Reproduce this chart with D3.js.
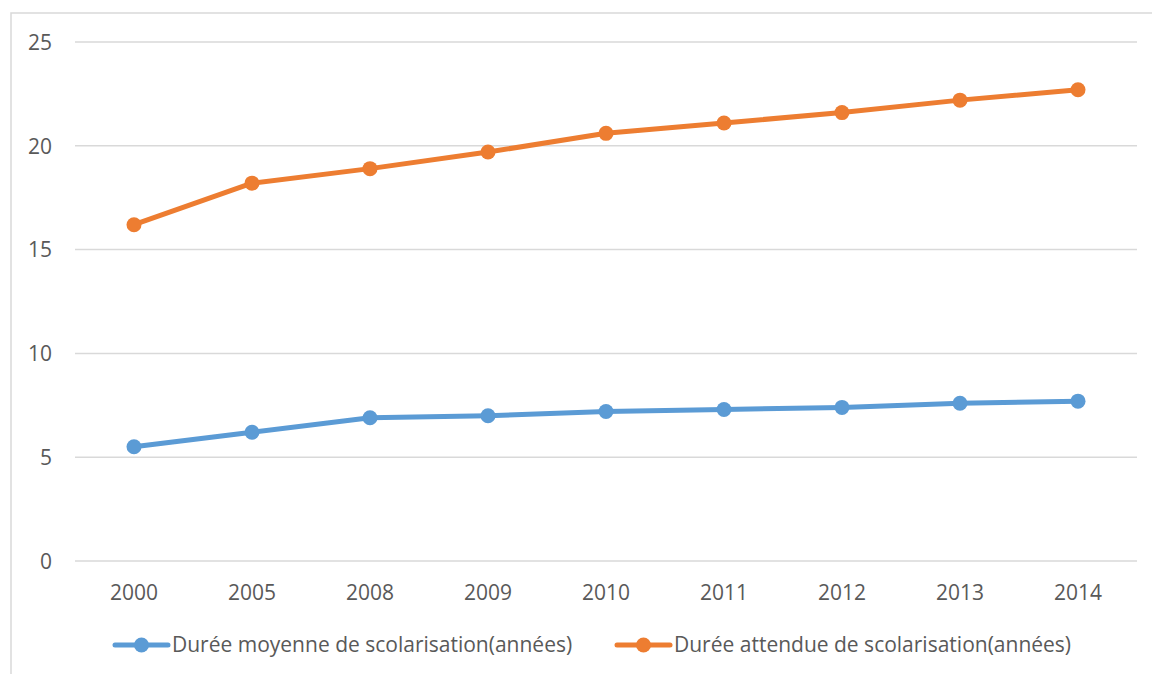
<!DOCTYPE html>
<html>
<head>
<meta charset="utf-8">
<script src="https://cdn.jsdelivr.net/npm/d3@7"></script>
<style>
  html, body { margin: 0; padding: 0; background: #fff; }
  svg { display: block; }
</style>
</head>
<body>
<svg id="chart" width="1152" height="674"></svg>
<script>
// Years on the category axis
const years = ["2000", "2005", "2008", "2009", "2010", "2011", "2012", "2013", "2014"];
// Mean years of schooling
const dureeMoyenne = [5.5, 6.2, 6.9, 7.0, 7.2, 7.3, 7.4, 7.6, 7.7];
// Expected years of schooling
const dureeAttendue = [16.2, 18.2, 18.9, 19.7, 20.6, 21.1, 21.6, 22.2, 22.7];
// Value axis ticks
const yTicks = [0, 5, 10, 15, 20, 25];
const seriesNames = ["Durée moyenne de scolarisation(années)", "Durée attendue de scolarisation(années)"];

const colors = ["#5B9BD5", "#ED7D31"];
const font = "'Open Sans', sans-serif";
const textColor = "#595959";
const fontSize = 21;

const svg = d3.select("#chart");

// outer chart frame
svg.append("rect")
  .attr("x", 11).attr("y", 13)
  .attr("width", 1160).attr("height", 680)
  .attr("fill", "none").attr("stroke", "#D9D9D9").attr("stroke-width", 1.5);

const plotLeft = 75, plotRight = 1137, plotTop = 42, plotBottom = 561;

const x = d3.scaleBand().domain(years).range([plotLeft, plotRight]);
const y = d3.scaleLinear().domain([0, 25]).range([plotBottom, plotTop]);

// horizontal gridlines
svg.append("g").selectAll("line").data(yTicks).join("line")
  .attr("x1", plotLeft).attr("x2", plotRight)
  .attr("y1", d => y(d)).attr("y2", d => y(d))
  .attr("stroke", "#D9D9D9").attr("stroke-width", 1.5);

// value axis labels
const yAxis = d3.axisLeft(y).tickValues(yTicks).tickSize(0).tickPadding(0);
const gy = svg.append("g").attr("transform", "translate(52,0)").call(yAxis);
gy.select(".domain").remove();
gy.selectAll("text")
  .attr("font-family", font).attr("font-size", fontSize).attr("fill", textColor).attr("dy", "0.35em");

// category axis labels
const xAxis = d3.axisBottom(x).tickSize(0).tickPadding(0);
const gx = svg.append("g").attr("transform", "translate(0,583)").call(xAxis);
gx.select(".domain").remove();
gx.selectAll("text")
  .attr("font-family", font).attr("font-size", fontSize).attr("fill", textColor).attr("dy", "0.8em");

const line = d3.line()
  .x((d, i) => x(years[i]) + x.bandwidth() / 2)
  .y(d => y(d));

[dureeMoyenne, dureeAttendue].forEach((vals, k) => {
  const g = svg.append("g");
  g.append("path").datum(vals)
    .attr("d", line)
    .attr("fill", "none").attr("stroke", colors[k])
    .attr("stroke-width", 5).attr("stroke-linejoin", "round").attr("stroke-linecap", "round");
  g.selectAll("circle").data(vals).join("circle")
    .attr("cx", (d, i) => x(years[i]) + x.bandwidth() / 2)
    .attr("cy", d => y(d))
    .attr("r", 7.5)
    .attr("fill", colors[k]);
});

// legend
const legendX = [113, 615];
const legendY = 645;
seriesNames.forEach((name, k) => {
  const g = svg.append("g").attr("transform", `translate(${legendX[k]},${legendY})`);
  g.append("line").attr("x1", 2).attr("x2", 55).attr("y1", 0).attr("y2", 0)
    .attr("stroke", colors[k]).attr("stroke-width", 5).attr("stroke-linecap", "round");
  g.append("circle").attr("cx", 28.5).attr("cy", 0).attr("r", 7.5).attr("fill", colors[k]);
  g.append("text").attr("x", 59).attr("y", 0).attr("dy", "0.35em")
    .attr("font-family", font).attr("font-size", fontSize).attr("fill", textColor)
    .text(name);
});
</script>
</body>
</html>
